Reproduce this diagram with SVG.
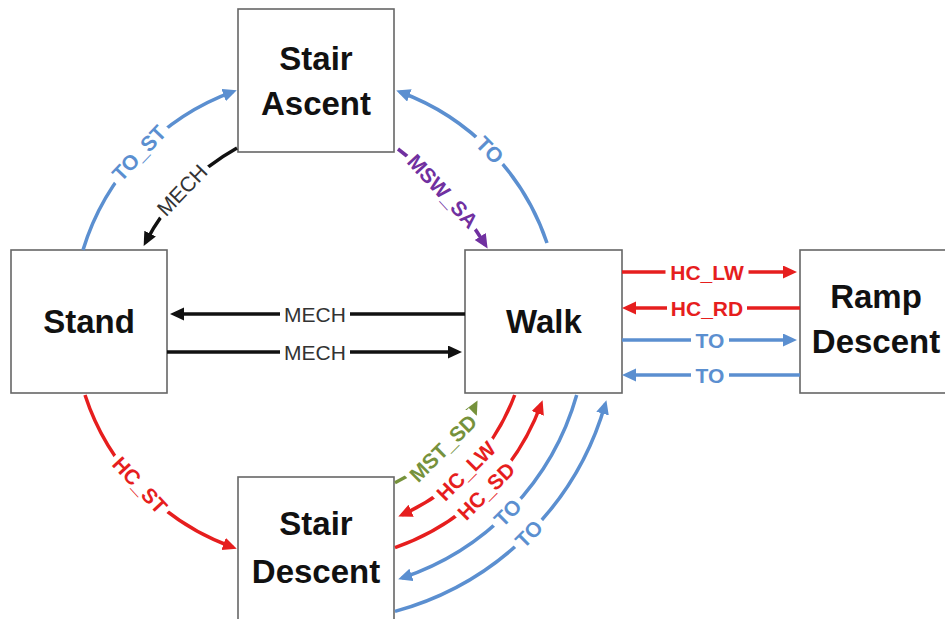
<svg xmlns="http://www.w3.org/2000/svg" width="945" height="619" viewBox="0 0 945 619">
<style>
.box{fill:#fff;stroke:#666;stroke-width:1.6}
.nl{font-family:"Liberation Sans",Arial,sans-serif;font-weight:bold;font-size:33px;fill:#111;text-anchor:middle}
.c{fill:none;stroke-width:3.5}
.k{stroke:#111}.r{stroke:#E61E1E}.b{stroke:#5B8FD0}.p{stroke:#7030A0}.g{stroke:#76923C}
.bg{fill:#fff}
.lb{font-family:"Liberation Sans",Arial,sans-serif;font-size:21px;text-anchor:middle}
.lk{fill:#333}.lr{fill:#E61E1E;font-weight:bold}.lbl{fill:#5B8FD0;font-weight:bold}.lp{fill:#7030A0;font-weight:bold}.lg{fill:#76923C;font-weight:bold}
</style>
<defs>
<marker id="ak" markerUnits="userSpaceOnUse" markerWidth="16" markerHeight="14" refX="10" refY="6.5" orient="auto"><path d="M0,0 L14,6.5 L0,13 z" fill="#111"/></marker>
<marker id="ar" markerUnits="userSpaceOnUse" markerWidth="16" markerHeight="14" refX="10" refY="6.5" orient="auto"><path d="M0,0 L14,6.5 L0,13 z" fill="#E61E1E"/></marker>
<marker id="ab" markerUnits="userSpaceOnUse" markerWidth="16" markerHeight="14" refX="10" refY="6.5" orient="auto"><path d="M0,0 L14,6.5 L0,13 z" fill="#5B8FD0"/></marker>
<marker id="ap" markerUnits="userSpaceOnUse" markerWidth="16" markerHeight="14" refX="10" refY="6.5" orient="auto"><path d="M0,0 L14,6.5 L0,13 z" fill="#7030A0"/></marker>
<marker id="ag" markerUnits="userSpaceOnUse" markerWidth="16" markerHeight="14" refX="10" refY="6.5" orient="auto"><path d="M0,0 L14,6.5 L0,13 z" fill="#76923C"/></marker>
</defs>
<rect width="945" height="619" fill="#fff"/>
<g id="stair-ascent"><rect class="box" x="238" y="9" width="156" height="143"/><text class="nl" x="316" y="70">Stair</text><text class="nl" x="316" y="115">Ascent</text></g>
<g id="stand"><rect class="box" x="11" y="250" width="156" height="143"/><text class="nl" x="89" y="333">Stand</text></g>
<g id="walk"><rect class="box" x="465" y="250" width="157" height="143"/><text class="nl" x="544" y="333">Walk</text></g>
<g id="ramp-descent"><rect class="box" x="800" y="250" width="160" height="143"/><text class="nl" x="876" y="308">Ramp</text><text class="nl" x="876" y="353">Descent</text></g>
<g id="stair-descent"><rect class="box" x="238" y="477" width="156" height="160"/><text class="nl" x="316" y="535">Stair</text><text class="nl" x="316" y="583">Descent</text></g>
<g id="connectors">
<path class="c b" d="M83,250 A244,244 0 0 1 233,91.6" marker-end="url(#ab)"/>
<path class="c b" d="M547,243 A244,244 0 0 0 400,92" marker-end="url(#ab)"/>
<path class="c k" d="M237,148 A230,230 0 0 0 145.5,242.5" marker-end="url(#ak)"/>
<path class="c p" d="M398,149 A350,350 0 0 1 485.5,245" marker-end="url(#ap)"/>
<path class="c r" d="M85,395 A241,241 0 0 0 233,547.3" marker-end="url(#ar)"/>
<path class="c g" d="M395,482.7 A180,180 0 0 0 475.7,404" marker-end="url(#ag)"/>
<path class="c r" d="M514.7,395 A212,212 0 0 1 402,514.8" marker-end="url(#ar)"/>
<path class="c r" d="M395,547.6 A240,240 0 0 0 541.2,404" marker-end="url(#ar)"/>
<path class="c b" d="M576.7,395 A271,271 0 0 1 402,578" marker-end="url(#ab)"/>
<path class="c b" d="M395,611.4 A301,301 0 0 0 605.3,404" marker-end="url(#ab)"/>
<path class="c k" d="M465,314 L174,314" marker-end="url(#ak)"/>
<path class="c k" d="M167,352 L458,352" marker-end="url(#ak)"/>
<path class="c r" d="M622,272 L793,272" marker-end="url(#ar)"/>
<path class="c r" d="M800,308 L626,308" marker-end="url(#ar)"/>
<path class="c b" d="M622,340 L793,340" marker-end="url(#ab)"/>
<path class="c b" d="M800,375 L626,375" marker-end="url(#ab)"/>
<g transform="translate(139,153) rotate(-46.5)"><rect class="bg" x="-38" y="-10" width="76" height="20"/><text class="lb lbl" y="7.5">TO_ST</text></g>
<g transform="translate(182,190) rotate(-46)"><rect class="bg" x="-35" y="-10" width="70" height="20"/><text class="lb lk" y="7.5">MECH</text></g>
<g transform="translate(490,150) rotate(45.5)"><rect class="bg" x="-19" y="-10" width="38" height="20"/><text class="lb lbl" y="7.5">TO</text></g>
<g transform="translate(443,191) rotate(47)"><rect class="bg" x="-50" y="-10" width="100" height="20"/><text class="lb lp" y="7.5">MSW_SA</text></g>
<g transform="translate(140,485) rotate(47)"><rect class="bg" x="-38.5" y="-10" width="77" height="20"/><text class="lb lr" y="7.5">HC_ST</text></g>
<g transform="translate(443,448) rotate(-45)"><rect class="bg" x="-46.5" y="-10" width="93" height="20"/><text class="lb lg" y="7.5">MST_SD</text></g>
<g transform="translate(466,471) rotate(-45)"><rect class="bg" x="-41.5" y="-10" width="83" height="20"/><text class="lb lr" y="7.5">HC_LW</text></g>
<g transform="translate(486,491) rotate(-45)"><rect class="bg" x="-39.5" y="-10" width="79" height="20"/><text class="lb lr" y="7.5">HC_SD</text></g>
<g transform="translate(507.6,512.6) rotate(-45)"><rect class="bg" x="-19" y="-10" width="38" height="20"/><text class="lb lbl" y="7.5">TO</text></g>
<g transform="translate(528.8,533.8) rotate(-45)"><rect class="bg" x="-19" y="-10" width="38" height="20"/><text class="lb lbl" y="7.5">TO</text></g>
<g transform="translate(315,314)"><rect class="bg" x="-35" y="-10" width="70" height="20"/><text class="lb lk" y="7.5">MECH</text></g>
<g transform="translate(315,352)"><rect class="bg" x="-35" y="-10" width="70" height="20"/><text class="lb lk" y="7.5">MECH</text></g>
<g transform="translate(707,272)"><rect class="bg" x="-41.5" y="-10" width="83" height="20"/><text class="lb lr" y="7.5">HC_LW</text></g>
<g transform="translate(707,308)"><rect class="bg" x="-40" y="-10" width="80" height="20"/><text class="lb lr" y="7.5">HC_RD</text></g>
<g transform="translate(710,340)"><rect class="bg" x="-19" y="-10" width="38" height="20"/><text class="lb lbl" y="7.5">TO</text></g>
<g transform="translate(710,375)"><rect class="bg" x="-19" y="-10" width="38" height="20"/><text class="lb lbl" y="7.5">TO</text></g>
</g>
</svg>
